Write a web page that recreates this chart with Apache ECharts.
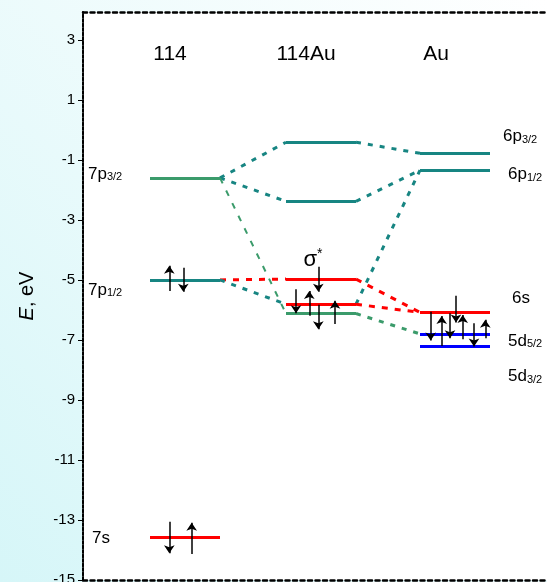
<!DOCTYPE html>
<html><head><meta charset="utf-8">
<script src="https://cdn.jsdelivr.net/npm/echarts@6/dist/echarts.min.js"></script>
<style>html,body{margin:0;padding:0;width:547px;height:582px;overflow:hidden;background:#fff}#c{width:547px;height:582px;}</style>
</head><body><div id="c"></div><script>
// ---------------- DATA ----------------
const columnNames = ['114', '114Au', 'Au'];
const yTicks = [3, 1, -1, -3, -5, -7, -9, -11, -13, -15];
// energy levels (eV)
const levels114 = [-1.6, -5.0, -13.57];
const levels114Au = [-0.41, -2.38, -4.97, -5.81, -6.12];
const levelsAu = [-0.78, -1.34, -6.08, -6.8, -7.2];
const levelNames114 = ['7p3/2', '7p1/2', '7s'];
const levelNamesAu = ['6p3/2', '6p1/2', '6s', '5d5/2', '5d3/2'];
const sigmaLabel = 'σ*';
// electron spin arrows [fromE, toE]
const spins114 = [[-5.37, -4.53], [-4.59, -5.39], [-13.06, -14.11], [-14.13, -13.09]];
const spins114Au = [[-4.56, -5.39], [-5.31, -6.11], [-6.19, -5.37], [-5.83, -6.64], [-6.47, -5.69]];
const spinsAu = [[-5.53, -6.42], [-6.06, -7.02], [-7.2, -6.2], [-6.11, -6.94], [-6.98, -6.17], [-6.44, -7.22], [-6.94, -6.33]];
// correlation lines: [fromColumn, fromLevel, toColumn, toLevel, kind]
const links = [
  [0, 0, 1, 0, 'teal'], [0, 0, 1, 1, 'teal'], [0, 0, 1, 4, 'greenThin'],
  [0, 1, 1, 2, 'red'], [0, 1, 1, 3, 'teal'],
  [1, 0, 2, 0, 'teal'], [1, 1, 2, 1, 'teal'], [1, 3, 2, 1, 'teal'],
  [1, 2, 2, 2, 'red'], [1, 3, 2, 2, 'red'], [1, 4, 2, 3, 'green']
];

// ---------------- LAYOUT / STYLE ----------------
const FONT = 'Liberation Sans, Arial, sans-serif';
const TEAL = '#178582', GREEN = '#3b9b6b', RED = '#ff0000', BLUE = '#0000ff';
const colCenter = [102, 238, 372];
const halfW = 35;
const levelColors = [
  [GREEN, TEAL, RED],
  [TEAL, TEAL, RED, RED, GREEN],
  [TEAL, TEAL, RED, BLUE, BLUE]
];
const allLevels = [levels114, levels114Au, levelsAu];
const allSpins = [spins114, spins114Au, spinsAu];
const spinX = [[-15.7, -1.7, -15.7, 6.7], [-2.7, -25, -11.7, -2.7, 14], [1, -24.3, -13.3, -5, 7.7, 19, 30.3]];
const linkStyle = {
  teal: {color: TEAL, width: 3, type: [5, 7], opacity: 1},
  green: {color: GREEN, width: 3, type: [5, 7], opacity: 1},
  greenThin: {color: GREEN, width: 2, type: [6, 8], opacity: 1},
  red: {color: RED, width: 3, type: [6, 7], opacity: 1}
};
const headerPos = [[87, 2.53], [223, 2.53], [353, 2.53]];
const leftLabelPos = [[5, -1.43], [5, -5.3], [9, -13.57]];
const rightLabelPos = [[420, -0.17], [425, -1.44], [429, -5.56], [425, -7.0], [425, -8.17]];
const sigmaPos = [230, -4.3];

// ---------------- BUILD ----------------
const levelLines = [];
allLevels.forEach((arr, c) => arr.forEach((e, i) => {
  levelLines.push({coords: [[colCenter[c] - halfW, e], [colCenter[c] + halfW, e]],
    lineStyle: {color: levelColors[c][i], width: 3, type: 'solid', opacity: 1}});
}));
const linkLines = links.map(([c1, i1, c2, i2, k]) => ({
  coords: [[colCenter[c1] + halfW, allLevels[c1][i1]], [colCenter[c2] - halfW, allLevels[c2][i2]]],
  lineStyle: linkStyle[k]
}));
const arrows = [];
allSpins.forEach((arr, c) => arr.forEach((s, i) => {
  const x = colCenter[c] + spinX[c][i];
  arrows.push({coords: [[x, s[0]], [x, s[1]]]});
}));
function sub(name) {
  const m = name.match(/^(\d[a-z])(.*)$/);
  return m[2] ? '{m|' + m[1] + '}{s|' + m[2] + '}' : '{m|' + name + '}';
}
const texts = [];
columnNames.forEach((n, i) => texts.push({value: headerPos[i], label: {formatter: '{h|' + n + '}', align: 'center'}}));
levelNames114.forEach((n, i) => texts.push({value: leftLabelPos[i], label: {formatter: sub(n), align: 'left'}}));
levelNamesAu.forEach((n, i) => texts.push({value: rightLabelPos[i], label: {formatter: sub(n), align: 'left'}}));
texts.push({value: sigmaPos, label: {formatter: '{g|' + sigmaLabel[0] + '}{p|' + sigmaLabel[1] + '}', align: 'center'}});

const chart = echarts.init(document.getElementById('c'));
chart.setOption({
  animation: false,
  backgroundColor: new echarts.graphic.LinearGradient(0, 1, 1, 0, [
    {offset: 0, color: '#d6f6f8'}, {offset: 1, color: '#ffffff'}]),
  grid: {left: 83, right: 0, top: 12, bottom: 2, show: true, backgroundColor: '#fff', borderWidth: 0,
    outerBoundsMode: 'none', containLabel: false},
  xAxis: [
    {type: 'value', min: 0, max: 464, position: 'bottom',
      axisLine: {onZero: false, lineStyle: {color: '#000', width: 2.5, type: [4, 3.5]}},
      axisTick: {show: false}, axisLabel: {show: false}, splitLine: {show: false}},
    {type: 'value', min: 0, max: 464, position: 'top',
      axisLine: {onZero: false, lineStyle: {color: '#000', width: 2.5, type: [4, 3.5]}},
      axisTick: {show: false}, axisLabel: {show: false}, splitLine: {show: false}}
  ],
  yAxis: {
    type: 'value', min: -15, max: 3.93,
    name: '{i|E}, eV', nameLocation: 'middle', nameRotate: 90, nameGap: 46, nameMoveOverlap: false,
    nameTextStyle: {fontSize: 20, fontFamily: FONT, color: '#000', rich: {i: {fontStyle: 'italic', fontSize: 20, fontFamily: FONT}}},
    axisLine: {show: true, onZero: false, lineStyle: {color: '#000', width: 2, type: [3, 1.5]}},
    axisTick: {show: true, length: 5, customValues: yTicks, lineStyle: {color: '#000', width: 1}},
    axisLabel: {customValues: yTicks, fontSize: 15, fontFamily: FONT, color: '#000', margin: 8},
    splitLine: {show: false}
  },
  series: [
    {type: 'lines', coordinateSystem: 'cartesian2d', silent: true, data: linkLines, symbol: 'none', z: 2,
      lineStyle: {opacity: 1}},
    {type: 'lines', coordinateSystem: 'cartesian2d', silent: true, data: levelLines, symbol: 'none', z: 3,
      lineStyle: {opacity: 1}},
    {type: 'lines', coordinateSystem: 'cartesian2d', silent: true, data: arrows,
      symbol: ['none', 'arrow'], symbolSize: 8, lineStyle: {color: '#000', width: 1.5, type: 'solid', opacity: 1}, z: 4},
    {type: 'scatter', silent: true, symbolSize: 1, itemStyle: {color: 'rgba(0,0,0,0)'}, z: 5, data: texts,
      label: {show: true, position: 'inside', color: '#000', opacity: 1, fontFamily: FONT,
        rich: {
          h: {fontSize: 21, fontFamily: FONT, color: '#000'},
          m: {fontSize: 17, fontFamily: FONT, color: '#000', lineHeight: 20, verticalAlign: 'bottom'},
          s: {fontSize: 11, fontFamily: FONT, color: '#000', lineHeight: 12, verticalAlign: 'bottom'},
          g: {fontSize: 22, fontFamily: FONT, color: '#000', lineHeight: 24, verticalAlign: 'bottom'},
          p: {fontSize: 14, fontFamily: FONT, color: '#000', lineHeight: 14, verticalAlign: 'top'}
        }}}
  ]
});
</script></body></html>
